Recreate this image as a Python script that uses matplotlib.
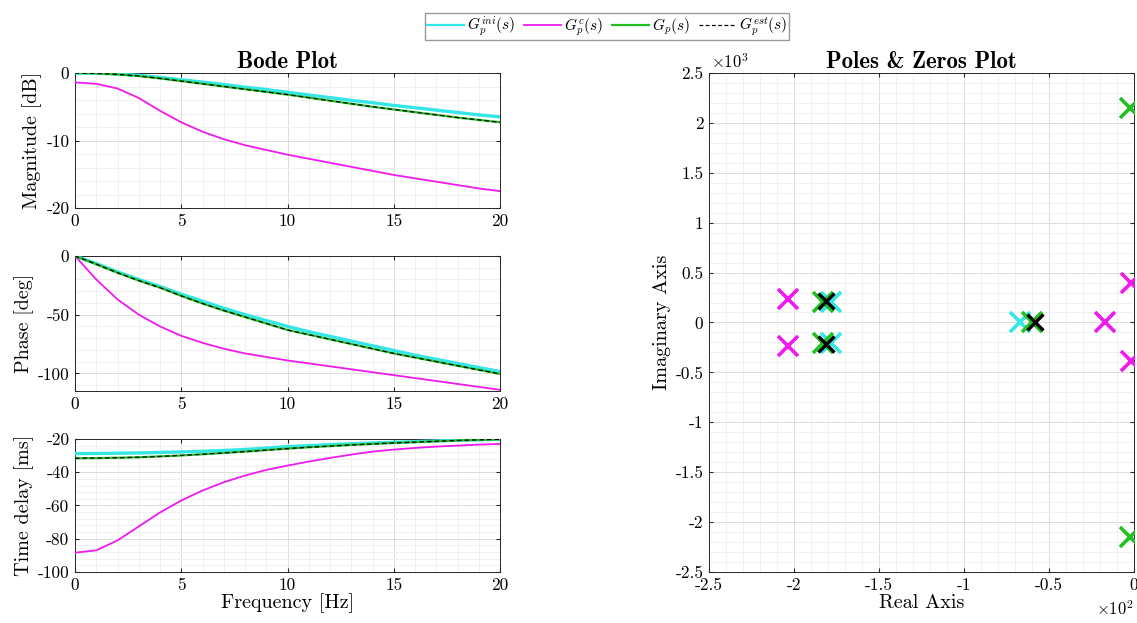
import matplotlib
matplotlib.use('Agg')
from matplotlib import pyplot
from matplotlib.ticker import AutoMinorLocator, FuncFormatter, MultipleLocator

pyplot.rcParams['font.family'] = ['cmr10', 'DejaVu Serif']
pyplot.rcParams['mathtext.fontset'] = 'cm'
pyplot.rcParams['axes.unicode_minus'] = False
pyplot.rcParams['axes.formatter.use_mathtext'] = True

# frequency grid [Hz]
freq = [0, 1, 2, 3, 4, 5, 6, 7, 8, 9, 10, 11, 12, 13, 14, 15, 16, 17, 18, 19, 20]

# magnitude [dB]
mag_ini = [0.0, -0.04, -0.15, -0.35, -0.65, -1.0, -1.35, -1.7, -2.1, -2.45, -2.85,
           -3.25, -3.65, -4.05, -4.4, -4.8, -5.15, -5.5, -5.85, -6.2, -6.5]
mag_c = [-1.4, -1.6, -2.3, -3.7, -5.6, -7.3, -8.7, -9.8, -10.7, -11.4, -12.1,
         -12.7, -13.3, -13.9, -14.5, -15.1, -15.6, -16.1, -16.6, -17.1, -17.5]
mag_p = [0.0, -0.05, -0.2, -0.45, -0.8, -1.2, -1.6, -2.0, -2.4, -2.8, -3.2,
         -3.65, -4.1, -4.55, -5.0, -5.4, -5.8, -6.2, -6.6, -6.95, -7.3]
mag_est = [0.0, -0.05, -0.2, -0.45, -0.8, -1.2, -1.6, -2.0, -2.4, -2.8, -3.2,
           -3.65, -4.1, -4.55, -5.0, -5.4, -5.8, -6.2, -6.6, -6.95, -7.3]

# phase [deg]
ph_ini = [0.0, -6.5, -13.5, -20.0, -26.0, -32.5, -38.5, -44.5, -50.0, -55.0, -60.0,
          -64.5, -68.5, -72.5, -76.5, -80.5, -84.5, -88.0, -91.5, -95.0, -98.5]
ph_c = [0.0, -20.0, -37.0, -50.0, -60.0, -68.0, -74.0, -79.0, -83.0, -86.0, -89.0,
        -91.5, -94.0, -96.5, -99.0, -101.5, -104.0, -106.5, -109.0, -111.5, -114.0]
ph_p = [0.0, -7.0, -14.3, -21.0, -27.0, -34.0, -40.5, -46.5, -52.0, -57.5, -63.0,
        -67.0, -71.0, -75.0, -79.0, -83.0, -86.5, -90.0, -93.5, -97.0, -100.5]
ph_est = [0.0, -7.0, -14.3, -21.0, -27.0, -34.0, -40.5, -46.5, -52.0, -57.5, -63.0,
          -67.0, -71.0, -75.0, -79.0, -83.0, -86.5, -90.0, -93.5, -97.0, -100.5]

# time delay [ms]
td_ini = [-28.8, -28.7, -28.6, -28.4, -28.1, -27.8, -27.4, -26.9, -26.3, -25.5, -24.6,
          -24.0, -23.4, -22.9, -22.4, -22.0, -21.6, -21.2, -20.8, -20.5, -20.2]
td_c = [-88.4, -87.0, -81.0, -72.6, -64.2, -57.0, -51.0, -46.0, -42.0, -38.6, -36.0,
        -33.6, -31.4, -29.4, -27.6, -26.4, -25.4, -24.6, -24.0, -23.4, -23.0]
td_p = [-31.6, -31.5, -31.3, -31.0, -30.5, -29.9, -29.2, -28.4, -27.6, -26.7, -25.8,
        -25.0, -24.3, -23.6, -23.0, -22.4, -21.9, -21.4, -20.9, -20.5, -20.2]
td_est = [-31.6, -31.5, -31.3, -31.0, -30.5, -29.9, -29.2, -28.4, -27.6, -26.7, -25.8,
          -25.0, -24.3, -23.6, -23.0, -22.4, -21.9, -21.4, -20.9, -20.5, -20.2]

# poles / zeros (real, imag)
pz_ini_re = [-178, -178, -67]
pz_ini_im = [210, -210, 0]
pz_c_re = [-203.5, -203.5, -17, -1.5, -1.5]
pz_c_im = [237, -237, 0, 391, -391]
pz_p_re = [-183, -183, -60, -2.5, -2.5]
pz_p_im = [210, -210, 0, 2150, -2150]
pz_est_re = [-181, -181, -58.5]
pz_est_im = [214, -214, 0]

c_ini = '#35e6e6'
c_c = '#ee1aee'
c_p = '#22c022'
c_est = '#000000'

TICK_FS = 12.5
LABEL_FS = 14.5
TITLE_FS = 16.5


def style_axes(ax):
    ax.tick_params(which='both', direction='in', top=True, right=True,
                   labelsize=TICK_FS, color='#262626', length=3, pad=4)
    ax.tick_params(which='minor', length=0)
    ax.xaxis.set_minor_locator(AutoMinorLocator(5))
    ax.yaxis.set_minor_locator(AutoMinorLocator(5))
    ax.grid(True, which='major', color='#dcdcdc', linewidth=0.7, zorder=0)
    ax.grid(True, which='minor', color='#eeeeee', linewidth=0.6, zorder=0)
    ax.set_axisbelow(True)
    for spine in ax.spines.values():
        spine.set_color('#262626')
        spine.set_linewidth(0.7)
    ax.xaxis.set_major_formatter(FuncFormatter(lambda v, p: '%g' % v))
    ax.yaxis.set_major_formatter(FuncFormatter(lambda v, p: '%g' % v))


def plot_bode(ax, ini, c, p, est):
    ax.plot(freq, ini, color=c_ini, linewidth=2.4, zorder=3)
    ax.plot(freq, c, color=c_c, linewidth=1.3, zorder=4)
    ax.plot(freq, p, color=c_p, linewidth=1.6, zorder=5)
    ax.plot(freq, est, color=c_est, linewidth=0.9, linestyle=(0, (3.5, 2.5)), zorder=6)
    ax.set_xlim(0, 20)
    ax.xaxis.set_major_locator(MultipleLocator(5))


fig = pyplot.figure(figsize=(11.37, 6.23), dpi=100)

ax_mag = fig.add_axes([0.066, 0.6661, 0.3738, 0.2167])
plot_bode(ax_mag, mag_ini, mag_c, mag_p, mag_est)
ax_mag.set_ylim(-20, 0)
ax_mag.yaxis.set_major_locator(MultipleLocator(10))
ax_mag.set_ylabel('Magnitude [dB]', fontsize=LABEL_FS, labelpad=3)
ax_mag.set_title('Bode Plot', fontsize=TITLE_FS, fontfamily='cmb10', pad=3)
style_axes(ax_mag)

ax_ph = fig.add_axes([0.066, 0.3724, 0.3738, 0.2167])
plot_bode(ax_ph, ph_ini, ph_c, ph_p, ph_est)
ax_ph.set_ylim(-115, 0)
ax_ph.yaxis.set_major_locator(MultipleLocator(50))
ax_ph.set_ylabel('Phase [deg]', fontsize=LABEL_FS, labelpad=3)
style_axes(ax_ph)
ax_ph.yaxis.set_minor_locator(MultipleLocator(10))

ax_td = fig.add_axes([0.066, 0.0819, 0.3738, 0.2135])
plot_bode(ax_td, td_ini, td_c, td_p, td_est)
ax_td.set_ylim(-100, -20)
ax_td.yaxis.set_major_locator(MultipleLocator(20))
ax_td.set_ylabel('Time delay [ms]', fontsize=LABEL_FS, labelpad=3)
ax_td.set_xlabel('Frequency [Hz]', fontsize=LABEL_FS, labelpad=0)
style_axes(ax_td)

ax_pz = fig.add_axes([0.6236, 0.0819, 0.3738, 0.801])
mk = dict(marker='x', linestyle='none', markersize=15, markeredgewidth=2.6)
ax_pz.plot(pz_ini_re, pz_ini_im, color=c_ini, zorder=3, **mk)
ax_pz.plot(pz_c_re, pz_c_im, color=c_c, zorder=4, **mk)
ax_pz.plot(pz_p_re, pz_p_im, color=c_p, zorder=5, **mk)
ax_pz.plot(pz_est_re, pz_est_im, color=c_est, zorder=6,
           marker='x', linestyle='none', markersize=11, markeredgewidth=2.4)
ax_pz.set_xlim(-250, 0)
ax_pz.set_ylim(-2500, 2500)
ax_pz.xaxis.set_major_locator(MultipleLocator(50))
ax_pz.yaxis.set_major_locator(MultipleLocator(500))
style_axes(ax_pz)
ax_pz.xaxis.set_major_formatter(FuncFormatter(lambda v, p: '%g' % (v / 100)))
ax_pz.yaxis.set_major_formatter(FuncFormatter(lambda v, p: '%g' % (v / 1000)))
ax_pz.set_title('Poles & Zeros Plot', fontsize=TITLE_FS, fontfamily='cmb10', pad=3)
ax_pz.set_xlabel('Real Axis', fontsize=LABEL_FS, labelpad=1)
ax_pz.set_ylabel('Imaginary Axis', fontsize=LABEL_FS, labelpad=3)
ax_pz.text(0.005, 1.004, r'$\times10^{3}$', transform=ax_pz.transAxes,
           fontsize=12, ha='left', va='bottom')
ax_pz.text(1.0, -0.055, r'$\times10^{2}$', transform=ax_pz.transAxes,
           fontsize=12, ha='right', va='top')

handles = [
    pyplot.Line2D([], [], color=c_ini, linewidth=1.6),
    pyplot.Line2D([], [], color=c_c, linewidth=1.3),
    pyplot.Line2D([], [], color=c_p, linewidth=1.6),
    pyplot.Line2D([], [], color=c_est, linewidth=0.9, linestyle=(0, (3, 2))),
]
labels = [r'$G_p^{ini}(s)$', r'$G_p^{c}(s)$', r'$G_p(s)$', r'$G_p^{est}(s)$']
fig.legend(handles, labels, loc='upper center', bbox_to_anchor=(0.534, 0.992),
           ncol=4, fontsize=11, handlelength=2.4, handletextpad=0.2,
           columnspacing=0.6, borderpad=0.12, fancybox=False, framealpha=1,
           edgecolor='#9a9a9a')

fig.savefig('out.png', dpi=100)
